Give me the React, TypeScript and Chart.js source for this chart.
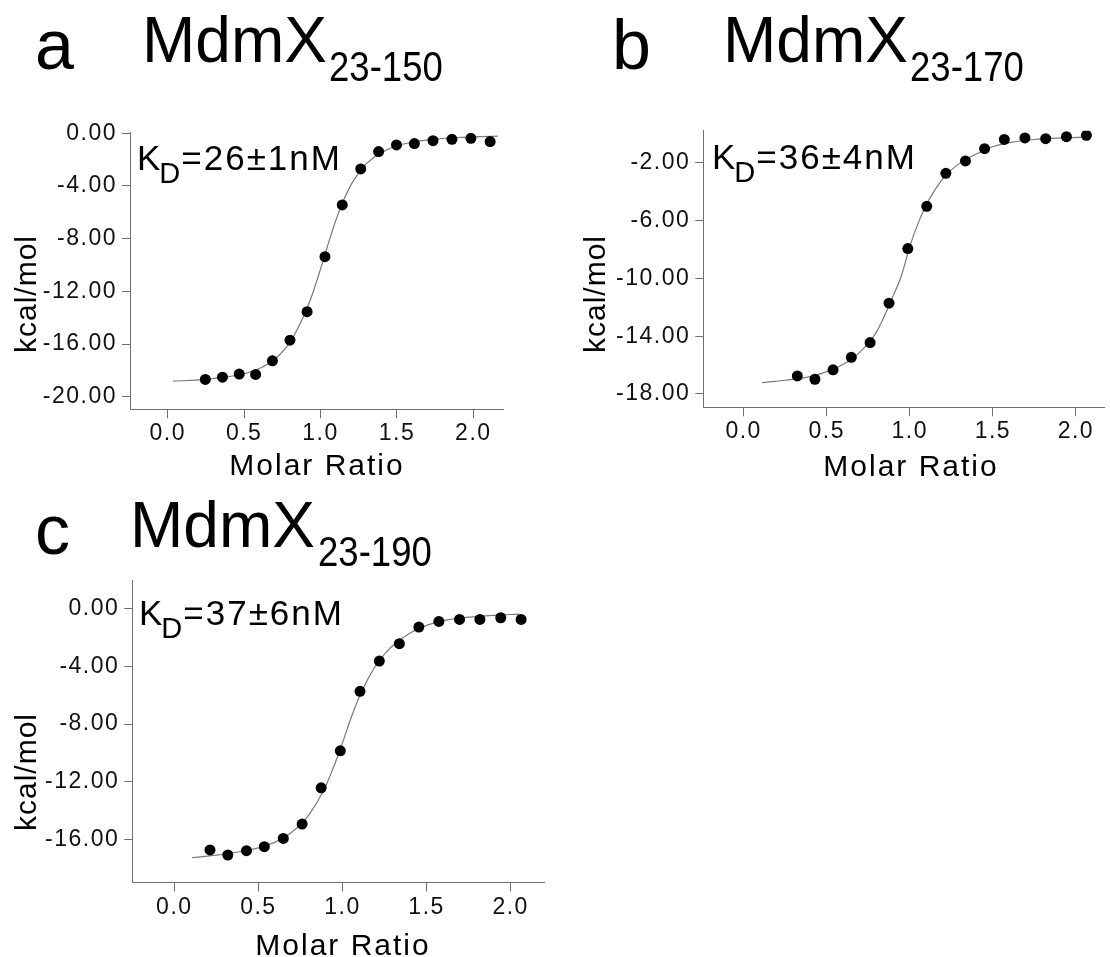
import React, { useEffect, useRef } from 'react';
import { Chart, registerables } from 'chart.js';
Chart.register(...registerables);

const FONT = '"Liberation Sans", Arial, Helvetica, sans-serif';

// ---------- data ----------
const xTickValues = [0, 0.5, 1.0, 1.5, 2.0];

// panel a  (MdmX 23-150)
const aRatio = [0.246, 0.358, 0.468, 0.575, 0.685, 0.8, 0.912, 1.029, 1.142, 1.263, 1.38, 1.497, 1.614, 1.736, 1.86, 1.984, 2.11];
const aHeat = [-18.68, -18.51, -18.28, -18.3, -17.27, -15.7, -13.54, -9.37, -5.44, -2.71, -1.39, -0.89, -0.78, -0.56, -0.46, -0.38, -0.63];
const aFitRatio = [0.035, 0.2, 0.35, 0.5, 0.6, 0.7, 0.8, 0.9, 0.95, 1.0, 1.05, 1.1, 1.15, 1.2, 1.25, 1.3, 1.4, 1.5, 1.6, 1.75, 1.9, 2.05, 2.16];
const aFitHeat = [-18.81, -18.72, -18.55, -18.25, -17.85, -17.15, -15.85, -13.6, -12.1, -10.3, -8.4, -6.6, -5.1, -3.9, -3.0, -2.3, -1.45, -0.95, -0.68, -0.45, -0.32, -0.25, -0.22];
const aYTicks = [0, -4, -8, -12, -16, -20];

// panel b  (MdmX 23-170)
const bRatio = [0.323, 0.429, 0.538, 0.648, 0.761, 0.875, 0.988, 1.102, 1.217, 1.335, 1.45, 1.569, 1.693, 1.818, 1.943, 2.063];
const bHeat = [-16.75, -16.98, -16.33, -15.46, -14.44, -11.72, -7.94, -5.02, -2.74, -1.88, -1.03, -0.39, -0.29, -0.34, -0.2, -0.11];
const bFitRatio = [0.112, 0.25, 0.4, 0.5, 0.6, 0.7, 0.8, 0.9, 0.95, 1.0, 1.05, 1.1, 1.15, 1.2, 1.25, 1.3, 1.4, 1.5, 1.6, 1.75, 1.9, 2.07];
const bFitHeat = [-17.21, -17.05, -16.8, -16.45, -15.95, -15.1, -13.7, -11.2, -9.8, -7.8, -6.2, -4.9, -3.9, -3.1, -2.5, -2.05, -1.4, -0.9, -0.62, -0.4, -0.3, -0.24];
const bYTicks = [-2, -6, -10, -14, -18];

// panel c  (MdmX 23-190)
const cRatio = [0.212, 0.318, 0.429, 0.535, 0.648, 0.76, 0.873, 0.987, 1.104, 1.219, 1.338, 1.454, 1.573, 1.696, 1.817, 1.941, 2.062];
const cHeat = [-16.74, -17.09, -16.79, -16.51, -15.94, -14.94, -12.43, -9.86, -5.73, -3.63, -2.42, -1.27, -0.88, -0.74, -0.74, -0.62, -0.74];
const cFitRatio = [0.106, 0.25, 0.4, 0.5, 0.6, 0.7, 0.8, 0.9, 0.95, 1.0, 1.05, 1.1, 1.15, 1.2, 1.25, 1.3, 1.4, 1.5, 1.6, 1.75, 1.9, 2.053];
const cFitHeat = [-17.27, -17.1, -16.85, -16.6, -16.2, -15.5, -14.3, -12.3, -10.9, -9.3, -7.6, -6.1, -4.9, -3.9, -3.15, -2.55, -1.7, -1.15, -0.82, -0.58, -0.45, -0.37];
const cYTicks = [0, -4, -8, -12, -16];

const panelLetters = ['a', 'b', 'c'];
const constructNames = ['MdmX', 'MdmX', 'MdmX'];
const constructRanges = ['23-150', '23-170', '23-190'];
const kdValues = ['=26±1nM', '=36±4nM', '=37±6nM'];
const xAxisTitle = 'Molar Ratio';
const yAxisTitle = 'kcal/mol';

// ---------- layout (page coordinates) ----------
type Spec = {
  idx: number;
  left: number; top: number; w: number; h: number;
  area: { left: number; top: number; right: number; bottom: number };
  xMin: number; xMax: number; yMin: number; yMax: number;
  ratio: number[]; heat: number[]; fitRatio: number[]; fitHeat: number[]; yTicks: number[];
  letter: { x: number; y: number };
  name: { x: number; y: number };
  sub: { x: number; y: number };
  kd: { x: number; y: number };
  xTitle: { x: number; y: number };
  yTitle: { x: number; y: number };
};

const specs: Spec[] = [
  {
    idx: 0, left: 0, top: 0, w: 560, h: 490,
    area: { left: 130, top: 132.6, right: 503.9, bottom: 409.3 },
    xMin: -0.247, xMax: 2.2, yMin: -20.95, yMax: 0.05,
    ratio: aRatio, heat: aHeat, fitRatio: aFitRatio, fitHeat: aFitHeat, yTicks: aYTicks,
    letter: { x: 35, y: 69 }, name: { x: 142, y: 62 }, sub: { x: 329, y: 81 },
    kd: { x: 137, y: 170 }, xTitle: { x: 317, y: 475 }, yTitle: { x: 36, y: 294 },
  },
  {
    idx: 1, left: 560, top: 0, w: 550, h: 490,
    area: { left: 703.3, top: 130.7, right: 1110, bottom: 407.3 },
    xMin: -0.243, xMax: 2.172, yMin: -18.92, yMax: 0.21,
    ratio: bRatio, heat: bHeat, fitRatio: bFitRatio, fitHeat: bFitHeat, yTicks: bYTicks,
    letter: { x: 612, y: 69 }, name: { x: 723, y: 62 }, sub: { x: 910, y: 81 },
    kd: { x: 712, y: 169 }, xTitle: { x: 911, y: 476 }, yTitle: { x: 605, y: 294 },
  },
  {
    idx: 2, left: 0, top: 490, w: 560, h: 467,
    area: { left: 132.3, top: 580, right: 544.3, bottom: 882.5 },
    xMin: -0.25, xMax: 2.2, yMin: -19.0, yMax: 2.0,
    ratio: cRatio, heat: cHeat, fitRatio: cFitRatio, fitHeat: cFitHeat, yTicks: cYTicks,
    letter: { x: 35, y: 554 }, name: { x: 130, y: 547 }, sub: { x: 318, y: 566 },
    kd: { x: 139, y: 625 }, xTitle: { x: 343, y: 955 }, yTitle: { x: 36, y: 772 },
  },
];

const AXIS_COLOR = '#6e6e6e';

function Panel({ spec }: { spec: Spec }) {
  const ref = useRef<HTMLCanvasElement>(null);
  useEffect(() => {
    const canvas = ref.current;
    if (!canvas) return;
    const s = spec;
    const ox = s.left, oy = s.top;
    const L = s.area.left - ox, T = s.area.top - oy, R = s.area.right - ox, B = s.area.bottom - oy;

    const annot = {
      id: 'annot' + s.idx,
      beforeDraw(chart: any) {
        (chart.ctx as any).letterSpacing = '1.5px';
      },
      afterDraw(chart: any) {
        const ctx = chart.ctx as CanvasRenderingContext2D;
        const put = (t: string, x: number, y: number, size: number, ls: number, sx = 1, align: CanvasTextAlign = 'left') => {
          ctx.save();
          ctx.font = `${size}px ${FONT}`;
          (ctx as any).letterSpacing = ls + 'px';
          ctx.fillStyle = '#000';
          ctx.textAlign = align;
          ctx.textBaseline = 'alphabetic';
          ctx.translate(x - ox, y - oy);
          ctx.scale(sx, 1);
          ctx.fillText(t, 0, 0);
          const w = ctx.measureText(t).width * sx;
          ctx.restore();
          return w;
        };
        // header
        put(panelLetters[s.idx], s.letter.x, s.letter.y, 70, 0);
        put(constructNames[s.idx], s.name.x, s.name.y, 64, 0);
        put(constructRanges[s.idx], s.sub.x, s.sub.y, 43, 0, 0.85);
        // KD annotation
        let x = s.kd.x;
        x += put('K', x, s.kd.y, 35, 0);
        x += put('D', x - 1, s.kd.y + 13, 29, 0) - 1;
        put(kdValues[s.idx], x + 1, s.kd.y, 35, 2);
        // axis titles
        put(xAxisTitle, s.xTitle.x, s.xTitle.y, 30, 2, 1, 'center');
        ctx.save();
        ctx.font = `30px ${FONT}`;
        (ctx as any).letterSpacing = '1px';
        ctx.fillStyle = '#000';
        ctx.textAlign = 'center';
        ctx.textBaseline = 'alphabetic';
        ctx.translate(s.yTitle.x - ox, s.yTitle.y - oy);
        ctx.rotate(-Math.PI / 2);
        ctx.fillText(yAxisTitle, 0, 0);
        ctx.restore();
      },
    };

    const tickFont = { family: FONT, size: 23 };
    const chart = new Chart(canvas, {
      type: 'scatter',
      data: {
        datasets: [
          {
            data: s.fitRatio.map((v, i) => ({ x: v, y: s.fitHeat[i] })),
            showLine: true,
            pointRadius: 0,
            borderColor: '#7a7a7a',
            borderWidth: 1.2,
            cubicInterpolationMode: 'monotone',
            order: 2,
          } as any,
          {
            data: s.ratio.map((v, i) => ({ x: v, y: s.heat[i] })),
            showLine: false,
            pointRadius: 5.5,
            pointBackgroundColor: '#000',
            pointBorderColor: '#000',
            pointBorderWidth: 0,
            order: 1,
          } as any,
        ],
      },
      options: {
        responsive: false,
        animation: false,
        devicePixelRatio: 1,
        layout: { padding: { left: 0, top: T, right: s.w - R, bottom: 0 } },
        plugins: { legend: { display: false }, tooltip: { enabled: false }, title: { display: false } },
        scales: {
          x: {
            type: 'linear',
            min: s.xMin,
            max: s.xMax,
            afterFit(sc: any) { sc.height = s.h - B; },
            afterBuildTicks(sc: any) { sc.ticks = xTickValues.map((v) => ({ value: v })); },
            ticks: {
              font: tickFont,
              color: '#111',
              padding: 2,
              autoSkip: false,
              maxRotation: 0,
              callback: (v: any) => Number(v).toFixed(1),
            },
            grid: { drawOnChartArea: false, drawTicks: true, tickLength: 9, color: AXIS_COLOR, tickColor: AXIS_COLOR },
            border: { display: true, color: AXIS_COLOR, width: 1 },
          },
          y: {
            type: 'linear',
            min: s.yMin,
            max: s.yMax,
            afterFit(sc: any) { sc.width = L; },
            afterBuildTicks(sc: any) { sc.ticks = s.yTicks.map((v) => ({ value: v })); },
            ticks: {
              font: tickFont,
              color: '#111',
              padding: 5,
              autoSkip: false,
              callback: (v: any) => Number(v).toFixed(2),
            },
            grid: { drawOnChartArea: false, drawTicks: true, tickLength: 8, color: AXIS_COLOR, tickColor: AXIS_COLOR },
            border: { display: true, color: AXIS_COLOR, width: 1 },
          },
        },
      } as any,
      plugins: [annot as any],
    });
    return () => chart.destroy();
  }, [spec]);

  return (
    <canvas
      ref={ref}
      width={spec.w}
      height={spec.h}
      style={{ position: 'absolute', left: spec.left, top: spec.top, width: spec.w, height: spec.h, display: 'block' }}
    />
  );
}

export default function App() {
  useEffect(() => {
    document.body.style.margin = '0';
    document.body.style.background = '#fff';
  }, []);
  return (
    <div style={{ position: 'absolute', left: 0, top: 0, width: 1110, height: 957, overflow: 'hidden', background: '#fff' }}>
      {specs.map((s) => (
        <Panel key={s.idx} spec={s} />
      ))}
    </div>
  );
}
